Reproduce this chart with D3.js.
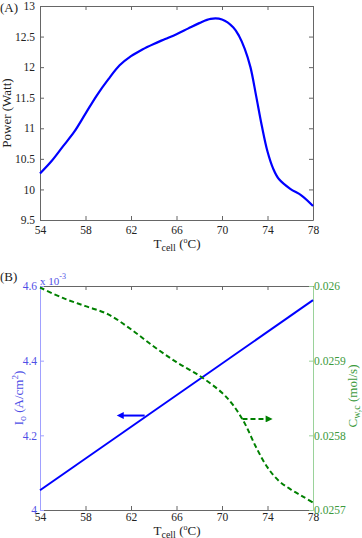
<!DOCTYPE html>
<html>
<head>
<meta charset="utf-8">
<script src="https://cdn.jsdelivr.net/npm/d3@7"></script>
<style>
  body { margin: 0; background: white; }
  text { font-family: "Liberation Serif", "Times New Roman", serif; }
</style>
</head>
<body>
<div id="chart"></div>
<script>
// shared x ticks (cell temperature, degC)
const tempTicks = [54, 58, 62, 66, 70, 74, 78];

// (A) power vs temperature
const powerTicks = [9.5, 10, 10.5, 11, 11.5, 12, 12.5, 13];
const powerTemp = [54, 55, 56, 57, 58, 59, 60, 61, 62, 63, 64, 65, 66, 67, 68, 69, 70, 71, 71.5, 72, 72.5, 73, 73.5, 74, 74.5, 75, 76, 77, 78];
const powerWatt = [10.26, 10.46, 10.7, 10.94, 11.24, 11.54, 11.8, 12.03, 12.18, 12.29, 12.38, 12.46, 12.54, 12.63, 12.72, 12.79, 12.78, 12.65, 12.51, 12.3, 12.0, 11.53, 11.04, 10.62, 10.34, 10.17, 10.01, 9.9, 9.73];

// (B) exchange current density (left axis, x 10^-3) and water flow (right axis)
const ioTicks = [4, 4.2, 4.4, 4.6];
const ioTemp = [54, 78];
const ioValue = [4.053, 4.562];
const cwcTicks = [0.0257, 0.0258, 0.0259, 0.026];
const cwcTemp = [54, 56, 58, 60, 62, 64, 66, 68, 70, 71, 72, 73, 74, 75, 76, 77, 78];
const cwcValue = [0.025998, 0.025984, 0.025973, 0.025962, 0.025942, 0.025919, 0.025898, 0.02588, 0.025857, 0.02584, 0.025816, 0.025784, 0.025757, 0.025739, 0.025728, 0.025719, 0.02571];

// arrows: [from temp, to temp] at a fixed value
const ioArrow = [63.2, 60.6];
const ioArrowY = 4.253;
const cwcArrow = [71.8, 74.6];
const cwcArrowY = 0.025822;

const W = 362, H = 538;
const blue = "#0000ff", green = "#008000";
const gray = "#666666";
const lightBlue = "#a0a0ff", labelBlue = "#4f4fe6";
const lightGreen = "#9ad29a", labelGreen = "#3c9a3c";

var svg = d3
  .select("#chart")
  .append("svg")
  .attr("width", W)
  .attr("height", H);

var defs = svg.append("defs");
[["headBlue", blue], ["headGreen", green]].forEach(function (m) {
  defs
    .append("marker")
    .attr("id", m[0])
    .attr("viewBox", "0 0 10 10")
    .attr("refX", 1)
    .attr("refY", 5)
    .attr("markerUnits", "userSpaceOnUse")
    .attr("markerWidth", 9)
    .attr("markerHeight", 7)
    .attr("orient", "auto")
    .append("path")
    .attr("d", "M0,0 L10,5 L0,10 Z")
    .attr("fill", m[1]);
});

const x = d3.scaleLinear().domain([54, 78]).range([40, 313]);

//Panel A

const yA = d3.scaleLinear().domain([9.5, 13]).range([220, 6]);

function styleAxis(g, lineColor, textColor) {
  g.select(".domain").attr("stroke", lineColor);
  g.selectAll(".tick line").attr("stroke", lineColor);
  g.selectAll("text")
    .attr("fill", textColor)
    .style("font-family", '"Liberation Serif", "Times New Roman", serif')
    .style("font-size", "11.5px");
}

svg
  .append("g")
  .attr("transform", "translate(0,220)")
  .call(d3.axisBottom(x).tickValues(tempTicks).tickSizeInner(-4).tickSizeOuter(0).tickPadding(6).tickFormat(d3.format("d")))
  .call(styleAxis, gray, "#222");

svg
  .append("g")
  .attr("transform", "translate(0,6)")
  .call(d3.axisTop(x).tickValues(tempTicks).tickSizeInner(-4).tickSizeOuter(0).tickFormat(""))
  .call(styleAxis, gray, "#222");

svg
  .append("g")
  .attr("transform", "translate(40,0)")
  .call(d3.axisLeft(yA).tickValues(powerTicks).tickSizeInner(-4).tickSizeOuter(0).tickPadding(5).tickFormat(String))
  .call(styleAxis, gray, "#222");

svg
  .append("g")
  .attr("transform", "translate(313,0)")
  .call(d3.axisRight(yA).tickValues(powerTicks).tickSizeInner(-4).tickSizeOuter(0).tickFormat(""))
  .call(styleAxis, gray, "#222");

var powerLine = d3
  .line()
  .x((d, i) => x(powerTemp[i]))
  .y((d) => yA(d))
  .curve(d3.curveCatmullRom);

svg
  .append("path")
  .attr("d", powerLine(powerWatt))
  .attr("fill", "none")
  .attr("stroke", blue)
  .attr("stroke-width", 2.2);

svg
  .append("text")
  .attr("x", 0)
  .attr("y", 12)
  .style("font-size", "13px")
  .attr("fill", "#222")
  .text("(A)");

svg
  .append("text")
  .attr("transform", "translate(11,113) rotate(-90)")
  .attr("text-anchor", "middle")
  .style("font-size", "13px")
  .attr("fill", "#222")
  .text("Power (Watt)");

function tempLabel(yPos) {
  var t = svg
    .append("text")
    .attr("x", 177)
    .attr("y", yPos)
    .attr("text-anchor", "middle")
    .style("font-size", "13px")
    .attr("fill", "#222");
  t.append("tspan").text("T");
  t.append("tspan").attr("dy", 3).style("font-size", "10px").text("cell");
  t.append("tspan").attr("dy", -3).text(" (");
  t.append("tspan").attr("dy", -5).style("font-size", "8px").text("o");
  t.append("tspan").attr("dy", 5).text("C)");
}
tempLabel(248);

//Panel B

const yB = d3.scaleLinear().domain([4, 4.6]).range([510, 286]);
const yC = d3.scaleLinear().domain([0.0257, 0.026]).range([510, 286]);

svg
  .append("g")
  .attr("transform", "translate(0,510)")
  .call(d3.axisBottom(x).tickValues(tempTicks).tickSizeInner(-4).tickSizeOuter(0).tickPadding(3).tickFormat(d3.format("d")))
  .call(styleAxis, gray, "#222");

svg
  .append("g")
  .attr("transform", "translate(0,286)")
  .call(d3.axisTop(x).tickValues(tempTicks).tickSizeInner(-4).tickSizeOuter(0).tickFormat(""))
  .call(styleAxis, gray, "#222");

svg
  .append("g")
  .attr("transform", "translate(40,0)")
  .call(d3.axisLeft(yB).tickValues(ioTicks).tickSizeInner(-4).tickSizeOuter(0).tickPadding(3).tickFormat(String))
  .call(styleAxis, lightBlue, labelBlue);

svg
  .append("g")
  .attr("transform", "translate(313,0)")
  .call(d3.axisRight(yC).tickValues(cwcTicks).tickSizeInner(-4).tickSizeOuter(0).tickPadding(1).tickFormat(String))
  .call(styleAxis, lightGreen, labelGreen);

svg
  .append("path")
  .attr("d", d3.line().x((d, i) => x(ioTemp[i])).y((d) => yB(d))(ioValue))
  .attr("fill", "none")
  .attr("stroke", blue)
  .attr("stroke-width", 2);

svg
  .append("path")
  .attr("d", d3.line().x((d, i) => x(cwcTemp[i])).y((d) => yC(d)).curve(d3.curveCatmullRom)(cwcValue))
  .attr("fill", "none")
  .attr("stroke", green)
  .attr("stroke-width", 2)
  .attr("stroke-dasharray", "5,3");

svg
  .append("line")
  .attr("x1", x(ioArrow[0]))
  .attr("x2", x(ioArrow[1]) + 8)
  .attr("y1", yB(ioArrowY))
  .attr("y2", yB(ioArrowY))
  .attr("stroke", blue)
  .attr("stroke-width", 2)
  .attr("marker-end", "url(#headBlue)");

svg
  .append("line")
  .attr("x1", x(cwcArrow[0]))
  .attr("x2", x(cwcArrow[1]) - 8)
  .attr("y1", yC(cwcArrowY))
  .attr("y2", yC(cwcArrowY))
  .attr("stroke", green)
  .attr("stroke-width", 2)
  .attr("stroke-dasharray", "5,3")
  .attr("marker-end", "url(#headGreen)");

svg
  .append("text")
  .attr("x", 0)
  .attr("y", 281)
  .style("font-size", "13px")
  .attr("fill", "#222")
  .text("(B)");

var expo = svg
  .append("text")
  .attr("x", 40)
  .attr("y", 285)
  .style("font-size", "11px")
  .attr("fill", labelBlue);
expo.append("tspan").text("x 10");
expo.append("tspan").attr("dy", -6).style("font-size", "8px").text("-3");

var ioLabel = svg
  .append("text")
  .attr("transform", "translate(23,398) rotate(-90)")
  .attr("text-anchor", "middle")
  .style("font-size", "13px")
  .attr("fill", labelBlue);
ioLabel.append("tspan").text("I");
ioLabel.append("tspan").attr("dy", 3).style("font-size", "10px").text("o");
ioLabel.append("tspan").attr("dy", -3).text(" (A/cm");
ioLabel.append("tspan").attr("dy", -5).style("font-size", "9px").text("2");
ioLabel.append("tspan").attr("dy", 5).text(")");

var cwcLabel = svg
  .append("text")
  .attr("transform", "translate(357,396) rotate(-90)")
  .attr("text-anchor", "middle")
  .style("font-size", "13px")
  .attr("fill", labelGreen);
cwcLabel.append("tspan").text("C");
cwcLabel.append("tspan").attr("dy", 3).style("font-size", "10px").text("w,c");
cwcLabel.append("tspan").attr("dy", -3).text(" (mol/s)");

tempLabel(535);
</script>
</body>
</html>
